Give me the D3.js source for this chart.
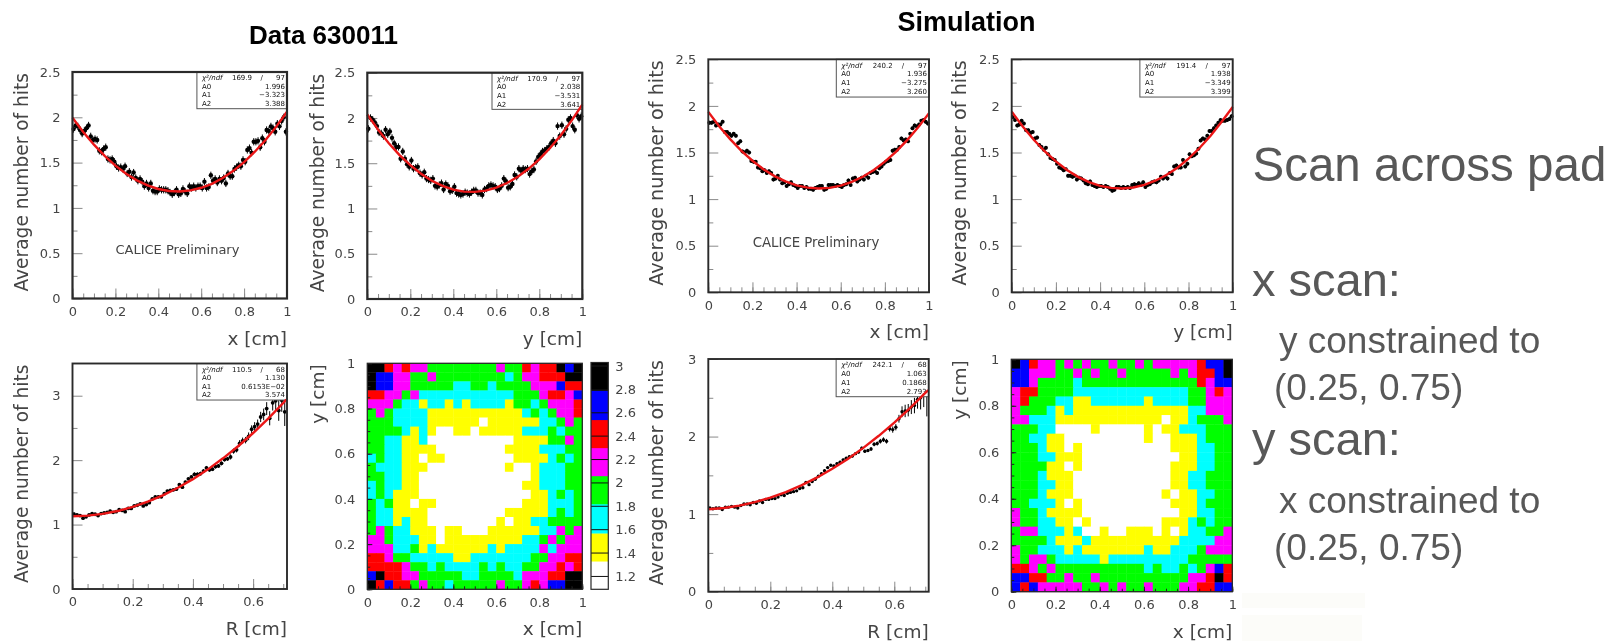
<!DOCTYPE html>
<html><head><meta charset="utf-8">
<script src="https://cdn.jsdelivr.net/npm/d3@7/dist/d3.min.js"></script>
<style>
html,body{margin:0;padding:0;background:#fff;overflow:hidden}
svg{display:block}
text{font-family:"DejaVu Sans",sans-serif;fill:#444}
.slide{font-family:"Liberation Sans",Arial,sans-serif;fill:#595959}
.title{font-family:"Liberation Sans",Arial,sans-serif;font-weight:bold;fill:#000}
</style></head><body>
<div id="chart"></div>
<script>
// ---- scan series: average hits per bin ----
const dataXScan=[1.87,1.91,1.90,1.86,1.82,1.85,1.88,1.91,1.79,1.75,1.76,1.75,1.63,1.62,1.65,1.67,1.54,1.53,1.54,1.51,1.46,1.44,1.45,1.43,1.46,1.38,1.40,1.34,1.39,1.33,1.30,1.32,1.29,1.24,1.27,1.22,1.27,1.19,1.18,1.18,1.21,1.20,1.20,1.20,1.19,1.17,1.15,1.17,1.20,1.15,1.16,1.21,1.18,1.16,1.24,1.22,1.24,1.22,1.24,1.24,1.22,1.29,1.22,1.23,1.36,1.30,1.32,1.28,1.32,1.30,1.33,1.27,1.38,1.35,1.35,1.43,1.45,1.47,1.46,1.53,1.51,1.64,1.66,1.61,1.73,1.73,1.74,1.67,1.77,1.73,1.86,1.85,1.90,1.88,1.84,1.93,1.90,1.96,2.00,1.84];
const dataYScan=[1.88,2.00,1.98,1.95,1.91,1.84,1.83,1.80,1.87,1.82,1.85,1.78,1.72,1.68,1.68,1.55,1.63,1.55,1.49,1.46,1.53,1.44,1.45,1.46,1.39,1.37,1.40,1.33,1.32,1.31,1.33,1.25,1.24,1.26,1.28,1.21,1.27,1.25,1.19,1.20,1.24,1.17,1.16,1.15,1.16,1.18,1.17,1.16,1.18,1.20,1.20,1.17,1.17,1.15,1.21,1.22,1.25,1.26,1.25,1.24,1.21,1.22,1.25,1.33,1.30,1.23,1.24,1.27,1.37,1.35,1.44,1.42,1.44,1.43,1.44,1.38,1.41,1.43,1.52,1.57,1.60,1.63,1.64,1.66,1.68,1.72,1.75,1.72,1.91,1.80,1.92,1.82,1.88,1.98,2.00,1.91,1.87,2.03,1.99,2.02];
const dataRScan=[1.16,1.15,1.14,1.10,1.12,1.15,1.17,1.16,1.14,1.17,1.18,1.19,1.21,1.19,1.20,1.23,1.22,1.20,1.25,1.25,1.29,1.30,1.32,1.29,1.31,1.34,1.40,1.43,1.43,1.43,1.48,1.52,1.53,1.54,1.55,1.62,1.58,1.66,1.71,1.74,1.78,1.78,1.79,1.83,1.88,1.85,1.86,1.90,1.91,1.95,2.01,2.02,2.05,2.14,2.16,2.26,2.30,2.31,2.37,2.48,2.52,2.56,2.67,2.71,2.80,2.65,2.89,2.92,2.77,2.93,2.75];
const simXScan=[1.82,1.82,1.83,1.79,1.80,1.80,1.83,1.72,1.72,1.70,1.68,1.70,1.68,1.60,1.62,1.51,1.50,1.52,1.50,1.41,1.40,1.40,1.34,1.33,1.30,1.31,1.28,1.30,1.28,1.21,1.22,1.25,1.21,1.17,1.18,1.14,1.16,1.18,1.15,1.14,1.12,1.14,1.14,1.12,1.13,1.11,1.11,1.10,1.12,1.13,1.14,1.14,1.10,1.11,1.15,1.15,1.15,1.14,1.15,1.14,1.13,1.15,1.16,1.20,1.15,1.22,1.23,1.19,1.21,1.23,1.21,1.25,1.23,1.28,1.29,1.30,1.28,1.33,1.35,1.38,1.40,1.41,1.42,1.52,1.53,1.53,1.56,1.65,1.63,1.64,1.62,1.70,1.76,1.79,1.78,1.80,1.84,1.85,1.83,1.81];
const simYScan=[1.88,1.85,1.79,1.80,1.84,1.81,1.74,1.74,1.71,1.72,1.65,1.66,1.58,1.56,1.53,1.55,1.48,1.44,1.43,1.42,1.38,1.34,1.33,1.31,1.32,1.25,1.25,1.24,1.25,1.21,1.23,1.22,1.20,1.17,1.16,1.19,1.15,1.14,1.13,1.14,1.14,1.13,1.14,1.13,1.11,1.09,1.10,1.13,1.13,1.12,1.13,1.12,1.13,1.12,1.15,1.16,1.15,1.17,1.15,1.18,1.13,1.15,1.16,1.18,1.19,1.18,1.20,1.24,1.22,1.24,1.22,1.28,1.27,1.35,1.36,1.34,1.34,1.42,1.35,1.38,1.48,1.46,1.47,1.49,1.54,1.63,1.65,1.64,1.68,1.73,1.73,1.76,1.79,1.82,1.85,1.84,1.84,1.85,1.86,1.89];
const simRScan=[1.08,1.07,1.08,1.08,1.06,1.09,1.09,1.10,1.09,1.08,1.11,1.13,1.13,1.12,1.15,1.14,1.17,1.15,1.19,1.19,1.20,1.20,1.22,1.25,1.24,1.27,1.28,1.29,1.30,1.33,1.34,1.41,1.38,1.42,1.45,1.49,1.52,1.56,1.60,1.63,1.62,1.65,1.67,1.70,1.72,1.74,1.75,1.78,1.80,1.85,1.81,1.82,1.84,1.90,1.91,1.94,1.96,1.94,2.10,2.09,2.12,2.23,2.32,2.33,2.34,2.38,2.40,2.48,2.50,2.58,2.56];
// ---- error half-widths ----
const dataRErr=[.03,.02,.02,.02,.02,.02,.02,.02,.02,.02,.02,.02,.02,.02,.02,.02,.02,.02,.02,.02,.02,.02,.02,.02,.02,.02,.02,.02,.02,.02,.02,.02,.02,.02,.02,.02,.02,.02,.02,.02,.03,.03,.03,.03,.03,.03,.03,.03,.03,.03,.03,.03,.04,.04,.04,.05,.05,.05,.06,.06,.07,.07,.08,.09,.10,.11,.12,.14,.16,.18,.22];
const simRErr=[.012,.012,.012,.012,.012,.012,.012,.012,.012,.012,.012,.012,.012,.012,.012,.012,.012,.012,.012,.012,.012,.012,.012,.012,.012,.012,.012,.012,.012,.012,.015,.015,.015,.015,.015,.015,.015,.015,.015,.015,.018,.018,.018,.018,.018,.018,.018,.018,.02,.02,.02,.02,.025,.025,.025,.03,.03,.03,.035,.04,.04,.05,.07,.08,.08,.09,.10,.12,.15,.2,.3];
const dataScanErr=.04, simScanErr=.02;
// ---- fitted curves, sampled every 0.05 ----
const dataXFit=[1.996,1.838,1.698,1.574,1.467,1.377,1.304,1.248,1.209,1.187,1.181,1.193,1.222,1.266,1.330,1.409,1.506,1.620,1.750,1.897,2.061];
const dataYFit=[2.038,1.871,1.721,1.590,1.478,1.383,1.306,1.249,1.209,1.186,1.183,1.197,1.230,1.281,1.350,1.438,1.543,1.668,1.809,1.970,2.148];
const dataRFit=[1.130,1.139,1.166,1.210,1.275,1.355,1.454,1.571,1.705,1.857,2.028,2.216,2.421,2.645,2.887,2.940];
const simXFit=[1.936,1.780,1.641,1.518,1.412,1.321,1.247,1.190,1.148,1.123,1.114,1.121,1.144,1.184,1.240,1.313,1.402,1.507,1.630,1.767,1.921];
const simYFit=[1.938,1.779,1.637,1.511,1.404,1.313,1.239,1.182,1.142,1.120,1.113,1.125,1.152,1.197,1.259,1.337,1.434,1.548,1.680,1.829,1.988];
const simRFit=[1.063,1.079,1.110,1.154,1.212,1.284,1.370,1.470,1.584,1.712,1.854,2.010,2.180,2.364,2.562,2.600];
const fitGrid=[0,.05,.1,.15,.2,.25,.3,.35,.4,.45,.5,.55,.6,.65,.7,.75,.8,.85,.9,.95,1];
const fitGridR=[0,.05,.1,.15,.2,.25,.3,.35,.4,.45,.5,.55,.6,.65,.7,.71];
// ---- fit statistics ----
const statsDataX=["169.9","97","1.996","\u22123.323","3.388"];
const statsDataY=["170.9","97","2.038","\u22123.531","3.641"];
const statsDataR=["110.5","68","1.130","0.6153E\u221202","3.574"];
const statsSimX=["240.2","97","1.936","\u22123.275","3.260"];
const statsSimY=["191.4","97","1.938","\u22123.349","3.399"];
const statsSimR=["242.1","68","1.063","0.1868","2.793"];
// ---- 2D maps: average hits per (x,y) cell, top row first ----
const W=1.2,Y=1.45,C=1.7,G=1.95,M=2.2,R=2.4,B=2.65,K=2.9;
const dataMap=[
[K,K,R,M,R,M,M,G,G,G,G,G,G,G,G,M,G,G,R,M,R,R,K,B,K],
[K,B,B,M,M,G,G,M,G,G,G,G,G,G,G,G,C,G,M,M,R,R,R,K,K],
[K,B,B,M,M,G,G,G,G,G,C,C,G,G,C,G,G,G,G,M,M,M,B,R,R],
[R,R,M,M,G,M,C,C,C,C,C,C,C,C,C,C,C,G,G,G,M,R,R,M,B],
[M,M,M,G,C,C,Y,C,C,Y,C,Y,C,C,C,C,Y,G,G,C,G,M,M,M,R],
[G,M,G,C,C,C,C,Y,Y,Y,Y,Y,Y,Y,Y,Y,Y,Y,C,G,C,G,M,M,R],
[G,G,G,C,C,C,C,Y,Y,Y,Y,Y,Y,W,Y,Y,Y,Y,Y,Y,C,C,G,M,G],
[G,G,G,G,C,Y,C,Y,W,W,Y,Y,W,Y,Y,Y,Y,Y,C,C,C,G,C,G,G],
[G,G,C,C,Y,Y,C,W,W,W,W,W,W,W,W,W,W,Y,Y,Y,Y,G,G,M,G],
[G,G,C,C,Y,Y,Y,Y,W,W,W,W,W,W,W,W,Y,Y,Y,Y,C,C,C,G,G],
[C,G,C,C,Y,Y,W,Y,Y,W,W,W,W,W,W,W,W,Y,Y,Y,Y,C,G,C,G],
[G,C,C,C,Y,Y,Y,W,W,W,W,W,W,W,W,W,Y,W,W,Y,C,C,C,G,G],
[G,G,C,C,Y,Y,W,W,W,W,W,W,W,W,W,W,W,W,W,Y,C,C,C,G,G],
[C,G,C,C,Y,Y,W,W,W,W,W,W,W,W,W,W,W,W,Y,Y,C,C,C,G,G],
[C,G,C,Y,Y,Y,W,W,W,W,W,W,W,W,W,W,W,W,W,Y,Y,C,G,C,G],
[G,C,G,Y,Y,W,Y,Y,W,W,W,W,W,W,W,W,W,W,Y,Y,Y,C,C,C,G],
[G,C,C,Y,Y,Y,Y,W,W,W,W,W,W,W,W,W,Y,Y,Y,Y,Y,C,G,C,G],
[G,C,C,Y,C,Y,Y,W,W,W,W,W,W,W,W,Y,W,Y,Y,C,C,G,G,G,G],
[G,M,G,C,C,Y,Y,Y,W,Y,Y,W,W,W,Y,Y,Y,Y,Y,Y,C,C,M,G,M],
[M,M,G,C,C,C,Y,Y,W,Y,Y,Y,Y,Y,Y,Y,Y,Y,C,C,G,M,G,M,M],
[M,M,M,C,C,G,Y,C,Y,Y,Y,Y,Y,Y,C,Y,C,C,C,C,M,C,M,M,M],
[R,R,M,G,G,C,C,C,C,C,Y,Y,C,C,C,C,C,C,C,G,G,M,M,R,R],
[R,R,R,R,M,G,G,C,G,C,C,C,C,G,C,G,C,C,G,G,M,M,R,M,R],
[B,K,R,R,M,M,G,G,G,G,G,C,C,G,G,G,G,C,M,M,M,R,R,K,K],
[K,R,B,R,R,G,M,G,G,C,G,G,G,G,G,M,G,G,M,R,M,B,B,K,K]];
const simMap=[
[K,B,R,M,M,G,M,G,M,G,G,M,G,G,M,G,M,M,M,M,M,R,B,B,K],
[B,B,M,M,M,G,G,M,G,M,G,G,M,G,G,G,G,G,M,G,M,R,R,B,K],
[B,B,M,G,G,G,G,C,G,G,G,G,G,G,G,G,G,G,G,G,G,R,M,B,B],
[M,R,R,G,G,G,G,C,C,C,C,C,C,C,C,C,C,C,C,C,G,G,M,R,M],
[M,R,G,G,G,C,C,Y,Y,C,C,C,C,C,C,Y,C,C,C,C,G,G,M,M,M],
[M,G,G,G,C,Y,C,Y,Y,Y,Y,Y,Y,Y,Y,Y,Y,Y,Y,Y,C,C,M,M,M],
[M,M,C,C,C,Y,Y,Y,Y,Y,Y,Y,Y,Y,Y,Y,Y,W,Y,Y,C,G,G,G,M],
[G,G,G,C,C,W,W,W,W,Y,W,W,W,W,W,Y,W,Y,Y,C,C,C,G,G,G],
[G,G,C,C,Y,Y,W,W,W,W,W,W,W,W,W,Y,W,W,Y,Y,Y,C,G,G,G],
[G,G,G,C,Y,Y,W,Y,W,W,W,W,W,W,W,W,W,W,Y,Y,Y,C,C,G,G],
[G,G,G,C,C,Y,Y,Y,W,W,W,W,W,W,W,W,W,W,W,Y,Y,C,C,G,G],
[G,G,G,G,Y,Y,W,Y,W,W,W,W,W,W,W,W,W,W,Y,Y,Y,C,C,G,G],
[G,G,G,C,Y,Y,Y,W,W,W,W,W,W,W,W,W,W,W,Y,Y,C,C,G,G,G],
[G,G,G,C,C,Y,Y,W,W,W,W,W,W,W,W,W,W,W,Y,Y,C,C,G,G,G],
[G,G,G,C,Y,Y,Y,W,W,W,W,W,W,W,W,W,W,Y,W,Y,Y,C,C,G,G],
[G,G,C,C,C,Y,W,Y,W,W,W,W,W,W,W,W,W,W,Y,Y,Y,C,G,G,G],
[M,G,G,C,Y,Y,Y,Y,W,W,W,W,W,W,W,W,W,W,W,Y,Y,C,C,G,G],
[M,G,G,C,C,Y,Y,W,Y,W,W,W,W,W,W,W,W,Y,Y,Y,C,G,C,G,G],
[G,M,M,C,C,C,Y,C,W,W,Y,W,W,Y,Y,Y,W,Y,W,Y,C,C,G,G,M],
[G,G,G,G,C,Y,Y,Y,C,Y,Y,Y,Y,Y,Y,Y,Y,Y,Y,C,C,C,C,M,M],
[M,G,G,C,C,C,Y,C,Y,Y,Y,Y,Y,Y,Y,C,Y,Y,C,C,C,G,M,M,M],
[M,G,M,M,G,C,C,C,C,C,Y,C,C,C,C,C,C,C,C,C,G,G,G,G,G],
[R,R,M,G,M,G,G,G,G,G,G,G,G,G,G,C,G,C,C,G,C,G,M,B,R],
[B,B,R,R,G,G,M,G,G,M,G,G,G,G,G,G,G,G,G,G,M,M,R,K,R],
[B,R,B,M,M,M,M,M,G,G,M,G,M,G,G,M,G,G,G,M,M,R,R,B,B]];
// ---- colour levels ----
const zThresholds=[1.33,1.57,1.82,2.06,2.30,2.54,2.79];
const zColors=["#ffffff","#ffff00","#00ffff","#00ff00","#ff00ff","#ff0000","#0000ff","#000000"];
const zTicks=[1.2,1.4,1.6,1.8,2,2.2,2.4,2.6,2.8,3];
const zRange=[1.09,3.03];
// ---- tick lists ----
const unitMajor=[0,.2,.4,.6,.8,1];
const unitMinor=[0,.05,.1,.15,.2,.25,.3,.35,.4,.45,.5,.55,.6,.65,.7,.75,.8,.85,.9,.95,1];
const rMajor=[0,.2,.4,.6];
const rMinor=[0,.05,.1,.15,.2,.25,.3,.35,.4,.45,.5,.55,.6,.65,.7];
const hitsMajor=[0,.5,1,1.5,2,2.5];
const hitsMinor=[.25,.75,1.25,1.75,2.25];
const rHitsMajor=[0,1,2,3];
const rHitsMinor=[.5,1.5,2.5];
const binMids=d3.range(100).map(i=>(i+.5)/100);
const rMids=d3.range(71).map(i=>(i+.5)/100);

const W_=1621,H_=641;
const svg=d3.select("#chart").append("svg").attr("width",W_).attr("height",H_);
const defs=svg.append("defs");
defs.append("filter").attr("id","soft").attr("filterUnits","userSpaceOnUse").attr("x",0).attr("y",0).attr("width",W_).attr("height",H_)
  .append("feGaussianBlur").attr("stdDeviation",0.55);
defs.append("filter").attr("id","soft2").attr("filterUnits","userSpaceOnUse").attr("x",0).attr("y",0).attr("width",W_).attr("height",H_)
  .append("feGaussianBlur").attr("stdDeviation",0.3);
const page=svg.append("g").attr("filter","url(#soft)");
const FRAME="#2a2a2a";

function axes(g,p,x,y,tickColor,xMaj,xMin,yMaj,yMin,majLen,minLen){
  const xa=g.append("g").attr("transform",`translate(0,${p.b})`);
  xa.append("g").call(d3.axisBottom(x).tickValues(xMin).tickSizeInner(-minLen).tickSizeOuter(0).tickFormat(""));
  xa.append("g").call(d3.axisBottom(x).tickValues(xMaj).tickSizeInner(-majLen).tickSizeOuter(0).tickPadding(8).tickFormat(d=>d));
  const ya=g.append("g").attr("transform",`translate(${p.l},0)`);
  ya.append("g").call(d3.axisLeft(y).tickValues(yMin).tickSizeInner(-minLen).tickSizeOuter(0).tickFormat(""));
  ya.append("g").call(d3.axisLeft(y).tickValues(yMaj).tickSizeInner(-majLen).tickSizeOuter(0).tickPadding(12).tickFormat(d=>d));
  g.selectAll(".domain").remove();
  g.selectAll(".tick line").attr("stroke",tickColor).attr("stroke-width",1);
  g.selectAll(".tick text").attr("font-size",13).attr("font-family","DejaVu Sans").style("fill","#444");
}
function frame(g,p,w){
  g.append("rect").attr("x",p.l).attr("y",p.t).attr("width",p.r-p.l).attr("height",p.b-p.t)
    .attr("fill","none").attr("stroke",FRAME).attr("stroke-width",w);
}
function labels(g,p,xLabel,yLabel,yBase,ySize){
  g.append("text").attr("x",p.r).attr("y",p.b+46).attr("text-anchor","end").attr("font-size",18.5).text(xLabel);
  g.append("text").attr("transform",`translate(${yBase},${p.t+1}) rotate(-90)`).attr("text-anchor","end").attr("font-size",ySize).text(yLabel);
}
function stats(g,p,vals){
  const w=p.r-p.l,h=(p.b-p.t)*.162,x0=p.l+w*.58,bw=p.r-x0;
  g.append("rect").attr("x",x0).attr("y",p.t).attr("width",bw).attr("height",h).attr("fill","#fff").attr("stroke","#555").attr("stroke-width",1);
  const rows=[.22,.45,.69,.93];
  const t=(xx,yy,s,a,extra)=>{const n=g.append("text").attr("x",xx).attr("y",p.t+h*yy).attr("font-size",7).attr("text-anchor",a||"start").style("fill","#111").attr("font-family","Liberation Sans").text(s);if(extra)n.attr("font-style","italic");};
  t(x0+5,rows[0],"\u03c7\u00b2/ndf","start",true);
  t(x0+bw*.5,rows[0],vals[0],"middle");
  t(x0+bw*.72,rows[0],"/","middle");
  t(p.r-2,rows[0],vals[1],"end");
  ["A0","A1","A2"].forEach((s,i)=>{t(x0+5,rows[i+1],s);t(p.r-2,rows[i+1],vals[i+2],"end");});
}
function scan(p){
  const g=page.append("g");
  const x=d3.scaleLinear().domain(p.xDom).range([p.l,p.r]);
  const y=d3.scaleLinear().domain(p.yDom).range([p.b,p.t]);
  axes(g,p,x,y,"#8a8a8a",p.xMaj,p.xMin,p.yMaj,p.yMin,10,5);
  const errOf=i=>Array.isArray(p.err)?p.err[i]:p.err;
  const pts=p.vals.map((v,i)=>({x:p.mids[i],v,e:errOf(i)}));
  g.append("g").selectAll("line").data(pts).join("line")
    .attr("x1",d=>x(d.x)).attr("x2",d=>x(d.x)).attr("y1",d=>y(d.v-d.e)).attr("y2",d=>y(d.v+d.e))
    .attr("stroke","#000").attr("stroke-width",1);
  g.append("g").selectAll("circle").data(pts).join("circle")
    .attr("cx",d=>x(d.x)).attr("cy",d=>y(d.v)).attr("r",p.dot).attr("fill","#000");
  stats(g,p,p.stats);
  const line=d3.line().x((d,i)=>x(p.fitX[i])).y(d=>y(d));
  g.append("path").attr("d",line(p.fit)).attr("fill","none").attr("stroke","#ea1519").attr("stroke-width",2.4);
  frame(g,p,p.fw);
  labels(g,p,p.xLabel,"Average number of hits",p.yBase,p.ySize);
  if(p.note) g.append("text").attr("x",p.note[0]).attr("y",p.note[1]).attr("font-size",p.note[2]).text("CALICE Preliminary");
}
const zColor=d3.scaleThreshold().domain(zThresholds).range(zColors);
function map(p){
  const g=page.append("g");
  const idx=d3.range(25);
  const cx=d3.scaleBand().domain(idx).range([p.l,p.r]);
  const cy=d3.scaleBand().domain(idx).range([p.t,p.b]);
  const x=d3.scaleLinear().domain([0,1]).range([p.l,p.r]);
  const y=d3.scaleLinear().domain([0,1]).range([p.b,p.t]);
  const cells=p.z.flatMap((row,r)=>row.map((v,c)=>({r,c,v})));
  g.append("g").selectAll("rect").data(cells).join("rect")
    .attr("x",d=>cx(d.c)).attr("y",d=>cy(d.r)).attr("width",cx.bandwidth()+.4).attr("height",cy.bandwidth()+.4)
    .attr("fill",d=>zColor(d.v));
  axes(g,p,x,y,"#222",unitMajor,unitMinor,unitMajor,unitMinor,5,3);
  frame(g,p,1.3);
  labels(g,p,"x [cm]","y [cm]",p.yBase,18.5);
}
function colorBar(b){
  const g=page.append("g");
  const z=d3.scaleLinear().domain(zRange).range([b.b,b.t]);
  const edges=[zRange[0],...zThresholds,zRange[1]];
  g.append("g").selectAll("rect").data(zColors).join("rect")
    .attr("x",b.l).attr("width",b.r-b.l)
    .attr("y",(d,i)=>z(edges[i+1])).attr("height",(d,i)=>z(edges[i])-z(edges[i+1])+.3).attr("fill",d=>d);
  g.append("g").selectAll("line").data(zTicks).join("line")
    .attr("x1",b.l).attr("x2",b.r).attr("y1",d=>z(d)).attr("y2",d=>z(d)).attr("stroke","#111").attr("stroke-width",1);
  g.append("rect").attr("x",b.l).attr("y",b.t).attr("width",b.r-b.l).attr("height",b.b-b.t).attr("fill","none").attr("stroke",FRAME).attr("stroke-width",1.2);
  g.append("g").selectAll("text").data(zTicks).join("text")
    .attr("x",b.r+7).attr("y",d=>z(d)+4.5).attr("font-size",13).text(d=>d);
}
scan({l:72.5,r:287,t:72,b:298.5,xDom:[0,1],yDom:[0,2.5],mids:binMids,vals:dataXScan,err:dataScanErr,fit:dataXFit,fitX:fitGrid,stats:statsDataX,xMaj:unitMajor,xMin:unitMinor,yMaj:hitsMajor,yMin:hitsMinor,xLabel:"x [cm]",yBase:28,ySize:18.6,fw:2.2,dot:2.2,note:[115.5,254,13]});
scan({l:367.3,r:582.3,t:72.7,b:299,xDom:[0,1],yDom:[0,2.5],mids:binMids,vals:dataYScan,err:dataScanErr,fit:dataYFit,fitX:fitGrid,stats:statsDataY,xMaj:unitMajor,xMin:unitMinor,yMaj:hitsMajor,yMin:hitsMinor,xLabel:"y [cm]",yBase:324,ySize:18.6,fw:2.2,dot:2.2});
scan({l:72.5,r:287,t:363.5,b:589,xDom:[0,.7125],yDom:[0,3.5],mids:rMids,vals:dataRScan,err:dataRErr,fit:dataRFit,fitX:fitGridR,stats:statsDataR,xMaj:rMajor,xMin:rMinor,yMaj:rHitsMajor,yMin:rHitsMinor,xLabel:"R [cm]",yBase:28,ySize:18.6,fw:1.9,dot:1.9});
scan({l:708.3,r:929,t:59.3,b:292.3,xDom:[0,1],yDom:[0,2.5],mids:binMids,vals:simXScan,err:simScanErr,fit:simXFit,fitX:fitGrid,stats:statsSimX,xMaj:unitMajor,xMin:unitMinor,yMaj:hitsMajor,yMin:hitsMinor,xLabel:"x [cm]",yBase:662.5,ySize:19.2,fw:1.9,dot:2,note:[752.7,246.7,13.3]});
scan({l:1011.7,r:1232.7,t:59.3,b:292.3,xDom:[0,1],yDom:[0,2.5],mids:binMids,vals:simYScan,err:simScanErr,fit:simYFit,fitX:fitGrid,stats:statsSimY,xMaj:unitMajor,xMin:unitMinor,yMaj:hitsMajor,yMin:hitsMinor,xLabel:"y [cm]",yBase:965.7,ySize:19.2,fw:1.9,dot:2});
scan({l:708.3,r:928.7,t:359,b:591.7,xDom:[0,.711],yDom:[0,3],mids:rMids,vals:simRScan,err:simRErr,fit:simRFit,fitX:fitGridR,stats:statsSimR,xMaj:rMajor,xMin:rMinor,yMaj:rHitsMajor,yMin:rHitsMinor,xLabel:"R [cm]",yBase:663,ySize:19.2,fw:1.9,dot:1.7});
map({l:367.3,r:582.3,t:363.3,b:589.3,z:dataMap,yBase:324});
map({l:1011.3,r:1232.3,t:359.3,b:591.7,z:simMap,yBase:965.7});
colorBar({l:591,r:608.3,t:362.5,b:589.3});
page.append("text").attr("class","title").attr("x",249).attr("y",44.3).attr("font-size",26).text("Data 630011");
page.append("text").attr("class","title").attr("x",897.5).attr("y",30.5).attr("font-size",27).text("Simulation");
// ---- slide notes ----
const notes=[["Scan across pad",1252.5,180.5,47.5],["x scan:",1252,295.5,47],["y constrained to",1279,353,37],["(0.25, 0.75)",1274,400,37],["y scan:",1252,455,47],["x constrained to",1279,513,37],["(0.25, 0.75)",1274,560,37]];
const side=svg.append("g").attr("filter","url(#soft2)");
side.selectAll("rect").data([[1242,593,123,15],[1242,615,120,26]]).join("rect")
  .attr("x",d=>d[0]).attr("y",d=>d[1]).attr("width",d=>d[2]).attr("height",d=>d[3]).attr("fill","#fcfcf9");
side.selectAll("text").data(notes).join("text").attr("class","slide")
  .attr("x",d=>d[1]).attr("y",d=>d[2]).attr("font-size",d=>d[3]).text(d=>d[0]);
</script>
</body></html>
